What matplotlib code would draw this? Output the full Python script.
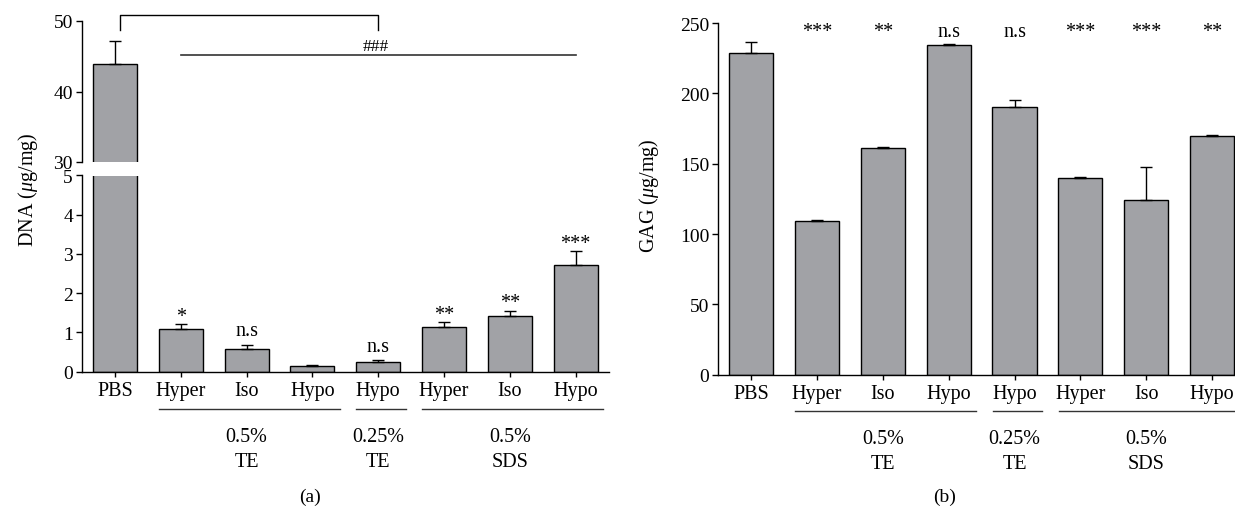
import matplotlib
matplotlib.use('Agg')
import matplotlib.pyplot as plt
from matplotlib.lines import Line2D
from matplotlib.transforms import blended_transform_factory
import numpy as np

# ---------------- data ----------------
categories = ['PBS', 'Hyper', 'Iso', 'Hypo', 'Hypo', 'Hyper', 'Iso', 'Hypo']
dna_mean = [43.9, 1.08, 0.59, 0.15, 0.25, 1.15, 1.43, 2.73]
dna_err = [3.3, 0.13, 0.10, 0.03, 0.04, 0.11, 0.12, 0.34]
dna_sig = ['', '*', 'n.s', '', 'n.s', '**', '**', '***']
gag_mean = [228.8, 109.5, 161.2, 234.6, 190.2, 139.9, 124.5, 169.6]
gag_err = [8.0, 0.8, 0.8, 0.8, 5.2, 0.6, 23.4, 0.6]
gag_sig = ['', '***', '**', 'n.s', 'n.s', '***', '***', '**']
group_top = ['0.5%', '0.25%', '0.5%']
group_bottom = ['TE', 'TE', 'SDS']
group_first = [1, 4, 5]
group_last = [3, 4, 7]
dna_upper_ticks = [30, 40, 50]
dna_lower_ticks = [0, 1, 2, 3, 4, 5]
gag_ticks = [0, 50, 100, 150, 200, 250]

# ---------------- style ----------------
plt.rcParams['font.family'] = ['Liberation Serif', 'DejaVu Serif']
plt.rcParams['mathtext.fontset'] = 'custom'
plt.rcParams['mathtext.rm'] = 'Liberation Serif'
plt.rcParams['mathtext.it'] = 'Liberation Serif:italic'
plt.rcParams['axes.linewidth'] = 1.0

W, H = 1235, 510
fig = plt.figure(figsize=(W / 100, H / 100), dpi=100)


def fx(px):
    return px / W


def fy(py):
    return 1 - py / H


AXW = (608.6 - 82) / W
ax_lo = fig.add_axes([fx(82), fy(372.7), AXW, (372.7 - 176.5) / H])
ax_hi = fig.add_axes([fx(82), fy(163), AXW, (163 - 22) / H])
ax_b = fig.add_axes([fx(718.3), fy(375.7), AXW, (375.7 - 24) / H])

x = np.arange(len(categories))
BAR = dict(width=0.67, color='#a1a2a6', edgecolor='black', linewidth=1.0,
           capsize=4, error_kw=dict(elinewidth=1.0, capthick=1.0, ecolor='black'))

for ax, mean, err in ((ax_lo, dna_mean, dna_err), (ax_hi, dna_mean, dna_err),
                      (ax_b, gag_mean, gag_err)):
    ax.bar(x, mean, yerr=[np.zeros(len(err)), err], **BAR)
    ax.set_xlim(-0.5, 7.5)
    ax.spines['top'].set_visible(False)
    ax.spines['right'].set_visible(False)
    ax.tick_params(axis='y', direction='out', length=4.5, width=1.0, labelsize=14, pad=2)
    ax.tick_params(axis='x', direction='out', length=3.5, width=1.0, labelsize=14.5, pad=3)

ax_hi.set_ylim(30, 50)
ax_hi.set_yticks(dna_upper_ticks)
ax_hi.spines['bottom'].set_visible(False)
ax_hi.set_xticks([])

ax_lo.set_ylim(0, 5)
ax_lo.set_yticks(dna_lower_ticks)
ax_lo.set_xticks(x)
ax_lo.set_xticklabels(categories)

ax_b.set_ylim(0, 250)
ax_b.set_yticks(gag_ticks)
ax_b.set_xticks(x)
ax_b.set_xticklabels(categories)

# y labels
fig.text(fx(28), fy(190), r'DNA ($\mu$g/mg)', rotation=90, ha='center', va='center', fontsize=14.5)
fig.text(fx(649), fy(196), r'GAG ($\mu$g/mg)', rotation=90, ha='center', va='center', fontsize=14.5)

# significance marks panel (a)
for i, s in enumerate(dna_sig):
    if s:
        off = 2.5 if s.startswith('*') else 7.0
        ax_lo.annotate(s, (x[i], dna_mean[i] + dna_err[i]), xytext=(0, off),
                       textcoords='offset points', ha='center', va='baseline', fontsize=14.5)

# significance marks panel (b)
for i, s in enumerate(gag_sig):
    if s:
        ax_b.text(x[i], 240.5, s, ha='center', va='baseline', fontsize=14.5)

# bracket and ### line in panel (a)
ax_hi.plot([0.08, 0.08, 4.0, 4.0], [48.77, 50.85, 50.85, 48.77], color='black',
           lw=1.0, clip_on=False)
ax_hi.text(3.96, 45.93, '###', ha='center', va='baseline', fontsize=12.5)
ax_hi.plot([1, 7], [45.22, 45.22], color='#333333', lw=1.2, clip_on=False)

# group lines and labels
for ax, yline, yb1, yb2 in ((ax_lo, 410, 442, 467), (ax_b, 412, 444, 469)):
    trans = blended_transform_factory(ax.transData, fig.transFigure)
    for k in range(len(group_top)):
        a, b = group_first[k], group_last[k]
        fig.add_artist(Line2D([a - 0.33, b + 0.42], [fy(yline)] * 2, transform=trans,
                              color='#333333', lw=1.0))
        mid = (a + b) / 2
        fig.text(mid, fy(yb1), group_top[k], transform=trans, ha='center',
                 va='baseline', fontsize=14.5)
        fig.text(mid, fy(yb2), group_bottom[k], transform=trans, ha='center',
                 va='baseline', fontsize=14.5)

fig.text(fx(310), fy(497), '(a)', ha='center', va='center', fontsize=14)
fig.text(fx(945), fy(497), '(b)', ha='center', va='center', fontsize=14)

fig.savefig('out.png', dpi=100, facecolor='white')
